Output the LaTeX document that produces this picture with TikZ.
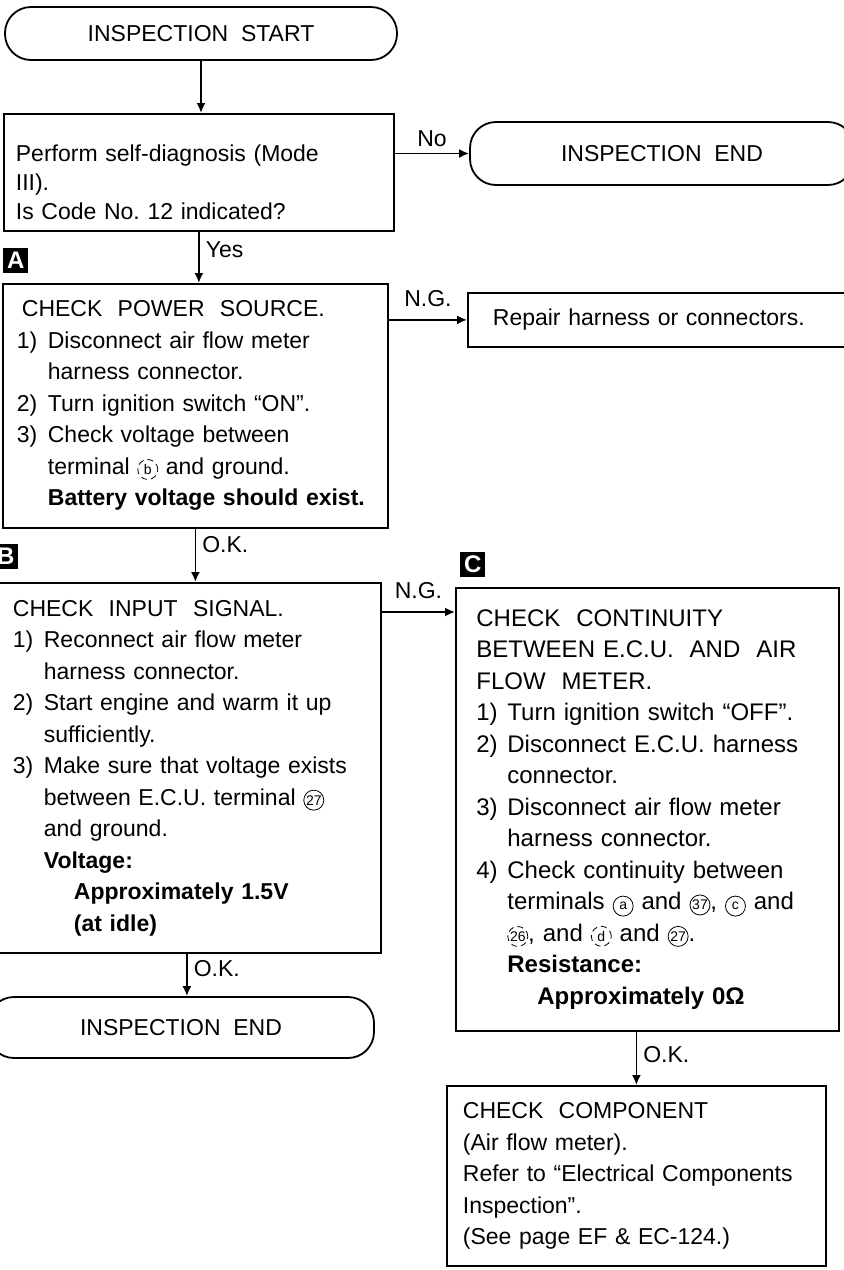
\documentclass[tikz,border=0pt]{standalone}
\usepackage{fontspec}
\setmainfont{Liberation Sans}
\usetikzlibrary{positioning,arrows.meta}
\frenchspacing

\newcommand{\itm}[1]{\makebox[15.5pt][l]{#1}}
\newcommand{\ind}{\hspace*{15.5pt}}
\newcommand{\cnum}[2][solid]{\tikz[baseline=(n.base)]\node[draw, circle, #1, line width=0.4pt,
  inner sep=0pt, minimum size=10pt, font=\fontsize{7}{7}\selectfont] (n) {#2};}

\begin{document}
\begin{tikzpicture}[
  x=0.5pt, y=-0.5pt,
  every node/.style={font=\fontsize{11.5}{15.75}\selectfont},
  blk/.style={draw, line width=0.9pt, anchor=north west, align=left, inner xsep=0pt},
  term/.style={draw, line width=0.9pt, rounded corners=13pt, inner sep=0pt, align=center},
  tag/.style={fill=black, text=white, inner sep=0pt, minimum size=12.5pt,
              font=\fontsize{12}{12}\selectfont\bfseries},
  arr/.style={-{Latex[length=5pt,width=4.5pt]}, line width=0.9pt},
  lbl/.style={inner sep=3pt},
]
  \useasboundingbox (0,0) rectangle (843,1270);

  \node[term, minimum width=196pt, minimum height=26.5pt] (start) at (201,33.5) {INSPECTION\ \ START};
  \node[blk, text width=183pt, minimum width=195pt, minimum height=58.5pt,
        font=\fontsize{11.5}{14.5}\selectfont] (diag) at (3,113)
    {\rule{0pt}{18pt}Perform self-diagnosis (Mode\\III).\\Is Code No. 12 indicated?};
  \node[term, minimum width=192pt, minimum height=31.5pt] (endA) at (662,153.5) {INSPECTION\ \ END};

  \node[blk, text width=178.5pt, minimum width=192.5pt, minimum height=122pt] (pwr) at (2,283)
    {\hspace*{2.5pt}CHECK\ \ POWER\ \ SOURCE.\\
     \itm{1)}Disconnect air flow meter\\
     \ind harness connector.\\
     \itm{2)}Turn ignition switch ``ON''.\\
     \itm{3)}Check voltage between\\
     \ind terminal \cnum[densely dashed]{b} and ground.\\
     \ind\textbf{Battery voltage should exist.}};
  \node[blk, text width=175pt, minimum width=200pt, minimum height=27pt] (repair) at (467,292)
    {Repair harness or connectors.};

  \node[blk, text width=174pt, minimum width=194pt, minimum height=185pt] (inp) at (-8,582)
    {CHECK\ \ INPUT\ \ SIGNAL.\\
     \itm{1)}Reconnect air flow meter\\
     \ind harness connector.\\
     \itm{2)}Start engine and warm it up\\
     \ind sufficiently.\\
     \itm{3)}Make sure that voltage exists\\
     \ind between E.C.U. terminal \cnum{27}\\
     \ind and ground.\\
     \ind\textbf{Voltage:}\\
     \ind\hspace*{15pt}\textbf{Approximately 1.5V}\\
     \ind\hspace*{15pt}\textbf{(at idle)}};

  \node[blk, text width=171pt, minimum width=191.5pt, minimum height=221.5pt,
        font=\fontsize{12}{15.75}\selectfont] (cont) at (455,587)
    {CHECK\ \ CONTINUITY\\
     BETWEEN E.C.U.\ \ AND\ \ AIR\\
     FLOW\ \ METER.\\
     \itm{1)}Turn ignition switch ``OFF''.\\
     \itm{2)}Disconnect E.C.U. harness\\
     \ind connector.\\
     \itm{3)}Disconnect air flow meter\\
     \ind harness connector.\\
     \itm{4)}Check continuity between\\
     \ind terminals \cnum{a} and \cnum{37}, \cnum{c} and\\
     \ind\cnum[densely dashed]{26}, and \cnum[densely dashed]{d} and \cnum{27}.\\
     \ind\textbf{Resistance:}\\
     \ind\hspace*{15pt}\textbf{Approximately 0Ω}};

  \node[term, minimum width=193pt, minimum height=30.5pt] (endB) at (181,1027.5) {INSPECTION\ \ END};

  \node[blk, text width=173.5pt, minimum width=189.5pt, minimum height=90pt] (comp) at (446,1085)
    {CHECK\ \ COMPONENT\\
     (Air flow meter).\\
     Refer to ``Electrical Components\\
     Inspection''.\\
     (See page EF \& EC-124.)};

  % step markers
  \node[tag, above right=5pt and 0.5pt of pwr.north west] (tagA) {A};
  \node[tag, above right=6.5pt and 0.5pt of inp.north west] (tagB) {B};
  \node[tag, above right=4.75pt and 2.5pt of cont.north west] (tagC) {C};

  \coordinate (cin) at ([yshift=-12.5pt]cont.north west);

  \draw[arr] (start.south) -- (start.south |- diag.north);
  \draw[arr] (diag.east |- endA.west) -- node[lbl, above] (lno) {No} (endA.west);
  \draw[arr] (diag.south) -- node[lbl, right, pos=0.34] (lyes) {Yes} (diag.south |- pwr.north);
  \draw[arr] (pwr.east |- repair.west) -- node[lbl, above=3pt] (lng1) {N.G.} (repair.west);
  \draw[arr] (pwr.south) -- node[lbl, right, pos=0.29] (lok1) {O.K.} (pwr.south |- inp.north);
  \draw[arr] (inp.east |- cin) -- node[lbl, above=3pt] (lng2) {N.G.} (cin);
  \draw[arr] (inp.south) -- node[lbl, right, pos=0.36] (lok2) {O.K.} (inp.south |- endB.north);
  \draw[arr] (comp.north |- cont.south) -- node[lbl, right, pos=0.42] (lok3) {O.K.} (comp.north);
\end{tikzpicture}
\end{document}
